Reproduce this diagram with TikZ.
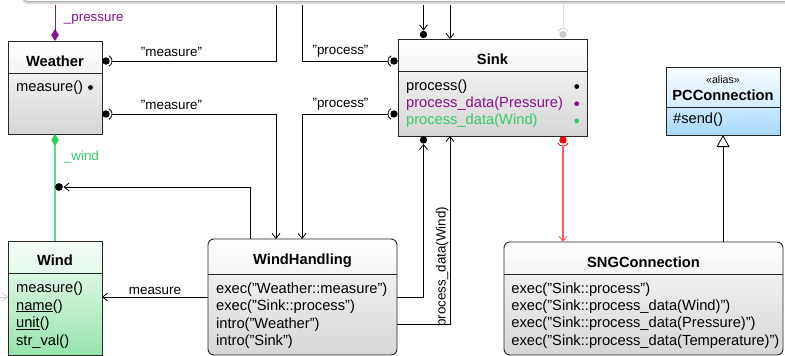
\documentclass[tikz,border=0pt]{standalone}
\usepackage{fontspec}
\setmainfont{Liberation Sans}
\usetikzlibrary{arrows.meta,backgrounds,shadows,calc}
\definecolor{hdtop}{RGB}{255,255,255}
\definecolor{hdbot}{RGB}{244,244,244}
\definecolor{bdtop}{RGB}{240,240,240}
\definecolor{bdbot}{RGB}{214,214,214}
\definecolor{wtop}{RGB}{246,253,248}
\definecolor{wbot}{RGB}{228,248,234}
\definecolor{wbtop}{RGB}{218,246,226}
\definecolor{wbbot}{RGB}{152,228,172}
\definecolor{ptop}{RGB}{248,252,255}
\definecolor{pbot}{RGB}{212,237,255}
\definecolor{pbtop}{RGB}{202,233,255}
\definecolor{pbbot}{RGB}{166,216,252}
\definecolor{purp}{RGB}{136,17,136}
\definecolor{gtext}{RGB}{51,204,102}
\definecolor{gline}{RGB}{110,212,140}
\definecolor{rline}{RGB}{255,90,90}
\definecolor{rball}{RGB}{255,0,0}
\definecolor{faint}{RGB}{205,205,205}
\begin{document}
\begin{tikzpicture}[x=1pt,y=-1pt,line width=0.8pt,
 cls/.style={draw=black!85,line width=0.9pt,inner sep=0pt,outer sep=0pt,anchor=north west},
 sepl/.style={draw=black!85,line width=0.9pt},
 ttl/.style={font=\fontsize{14.7}{17}\selectfont\bfseries,anchor=base,inner sep=0pt},
 itm/.style={font=\fontsize{14.7}{17}\selectfont,anchor=base west,inner sep=0pt},
 lbl/.style={font=\fontsize{13.4}{15}\selectfont,anchor=base,inner sep=0pt},
 arr/.style={-{Straight Barb[length=5pt,width=8pt]}},
 ]
\useasboundingbox (0,0) rectangle (785,356);

% upper (cut-off) box
\node[draw=gray!60,fill=gray!8,rounded corners=5pt,minimum width=800pt,minimum height=40pt,
  anchor=south west,inner sep=0pt,
  drop shadow={shadow xshift=0pt,shadow yshift=-2.5pt,opacity=0.3}] (upper) at (22,2) {};

% ---------- Weather
\node[cls,minimum width=94pt,minimum height=93pt] (weather) at (8,41) {};
\begin{scope}[on background layer]
\shade[top color=hdtop,bottom color=hdbot] (8,41) rectangle (102,73);
\shade[top color=bdtop,bottom color=bdbot] (8,73) rectangle (102,134);
\end{scope}
\draw[sepl] (8,73) -- (102,73);
\node[ttl] (weatherT) at (55,66.5) {Weather};
\node[itm] (weatherI) at (15.7,91.5) {measure()};
\fill (90.5,87.5) circle (2.4pt);

% ---------- Sink
\node[cls,minimum width=189pt,minimum height=97pt] (sink) at (398,39) {};
\begin{scope}[on background layer]
\shade[top color=hdtop,bottom color=hdbot] (398,39) rectangle (587,71);
\shade[top color=bdtop,bottom color=bdbot] (398,71) rectangle (587,136);
\end{scope}
\draw[sepl] (398,71) -- (587,71);
\node[ttl] (sinkT) at (492.5,64) {Sink};
\node[itm] (sinkI1) at (405.7,90.5) {process()};
\node[itm,text=purp] (sinkI2) at (405.7,107.5) {process\_data(Pressure)};
\node[itm,text=gtext] (sinkI3) at (405.7,124.5) {process\_data(Wind)};
\fill (576.7,86.5) circle (2.4pt);
\fill[purp] (576.7,103.7) circle (2.4pt);
\fill[gtext] (576.7,120.9) circle (2.4pt);

% ---------- PCConnection
\node[cls,minimum width=114pt,minimum height=68pt] (pc) at (666,67) {};
\begin{scope}[on background layer]
\shade[top color=ptop,bottom color=pbot] (666,67) rectangle (780,107);
\shade[top color=pbtop,bottom color=pbbot] (666,107) rectangle (780,135);
\end{scope}
\draw[sepl] (666,107) -- (780,107);
\node[inner sep=0pt,anchor=base,font=\fontsize{10.6}{12}\selectfont] (pcS) at (723,83) {«alias»};
\node[ttl] (pcT) at (723,100) {PCConnection};
\node[itm] (pcI) at (672.7,123.5) {\#send()};

% ---------- WindHandling
\node[cls,rounded corners=6pt,minimum width=189pt,minimum height=116pt] (wh) at (208,239) {};
\begin{scope}[on background layer]
\begin{scope}
\clip[rounded corners=6pt] (208,239) rectangle (397,355);
\shade[top color=hdtop,bottom color=hdbot] (208,239) rectangle (397,274);
\shade[top color=bdtop,bottom color=bdbot] (208,274) rectangle (397,355);
\end{scope}
\end{scope}
\draw[sepl] (208,274) -- (397,274);
\node[ttl] (whT) at (302.5,264.5) {WindHandling};
\node[itm] (whI1) at (215.7,293.5) {exec("Weather::measure")};
\node[itm] (whI2) at (215.7,310.8) {exec("Sink::process")};
\node[itm] (whI3) at (215.7,328.1) {intro("Weather")};
\node[itm] (whI4) at (215.7,345.4) {intro("Sink")};

% ---------- SNGConnection
\node[cls,rounded corners=6pt,minimum width=279pt,minimum height=113pt] (sng) at (504,242) {};
\begin{scope}[on background layer]
\begin{scope}
\clip[rounded corners=6pt] (504,242) rectangle (783,355);
\shade[top color=hdtop,bottom color=hdbot] (504,242) rectangle (783,274);
\shade[top color=bdtop,bottom color=bdbot] (504,274) rectangle (783,355);
\end{scope}
\end{scope}
\draw[sepl] (504,274) -- (783,274);
\node[ttl] (sngT) at (643.5,267.3) {SNGConnection};
\node[itm] (sngI1) at (511,293.3) {exec("Sink::process")};
\node[itm] (sngI2) at (511,310.6) {exec("Sink::process\_data(Wind)")};
\node[itm] (sngI3) at (511,327.9) {exec("Sink::process\_data(Pressure)")};
\node[itm] (sngI4) at (511,345.2) {exec("Sink::process\_data(Temperature)")};

% ---------- Wind
\node[cls,minimum width=94pt,minimum height=114pt] (wind) at (8,241) {};
\begin{scope}[on background layer]
\shade[top color=wtop,bottom color=wbot] (8,241) rectangle (102,273);
\shade[top color=wbtop,bottom color=wbbot] (8,273) rectangle (102,355);
\end{scope}
\draw[sepl] (8,273) -- (102,273);
\node[ttl] (windT) at (55,265.7) {Wind};
\node[itm] (windI1) at (15.7,292.5) {measure()};
\node[itm] (windI2) at (15.7,310) {\underline{name}()};
\node[itm] (windI3) at (15.7,327.5) {\underline{unit}()};
\node[itm] (windI4) at (15.7,345) {str\_val()};

% ---------- free ends at the top
\coordinate (T55) at (55,5);
\coordinate (T276) at (276,5);
\coordinate (T302) at (302,5);
\coordinate (T423) at (423.5,5);
\coordinate (T450) at (450,5);
\coordinate (T563) at (563,5);

% pressure / wind compositions
\draw[purp,-{Diamond[length=12pt,width=7.5pt]}] (T55) -- (weather.north);
\node[lbl,anchor=base west,text=purp] (lp) at (63.5,21) {\_pressure};
\draw[gline,line width=1.5pt,-{Diamond[length=12pt,width=7.5pt,color=gtext,line width=0.8pt]}] (wind.north) -- (weather.south);
\node[lbl,anchor=base west,text=gtext] (lw) at (63.5,160.5) {\_wind};

% measure 1
\path (weather.north east) ++(4,20) coordinate (bm1);
\fill (bm1) circle (3.7pt);
\draw (bm1) ++(-60:6pt) arc[start angle=-60,end angle=60,radius=6pt];
\draw ($(bm1)+(6,0)$) -| (T276);
\node[lbl] (lm1) at (171.5,56.5) {"measure"};

% measure 2
\path (weather.north east) ++(4,73) coordinate (bm2);
\fill (bm2) circle (3.7pt);
\draw (bm2) ++(-60:6pt) arc[start angle=-60,end angle=60,radius=6pt];
\draw[arr] ($(bm2)+(6,0)$) -| ($(wh.north west)+(68,0)$);
\node[lbl] (lm2) at (171.5,109.5) {"measure"};

% process 1
\path (sink.north west) ++(-4,22) coordinate (bp1);
\fill (bp1) circle (3.7pt);
\draw (bp1) ++(120:6pt) arc[start angle=120,end angle=240,radius=6pt];
\draw (T302) |- ($(bp1)+(-6,0)$);
\node[lbl] (lp1) at (340.5,54) {"process"};

% process 2
\path (sink.north west) ++(-4,75) coordinate (bp2);
\fill (bp2) circle (3.7pt);
\draw (bp2) ++(120:6pt) arc[start angle=120,end angle=240,radius=6pt];
\draw[arr] ($(bp2)+(-6,0)$) -| ($(wh.north west)+(94,0)$);
\node[lbl] (lp2) at (340.5,107.5) {"process"};

% into Sink from above
\path (sink.north west) ++(25.5,-4.5) coordinate (bt1);
\fill (bt1) circle (3.7pt);
\draw[arr] (T423) -- ($(bt1)+(0,-4)$);
\draw[arr] (T450) -- ($(sink.north west)+(52,0)$);
\path (sink.north west) ++(165,-4.5) coordinate (bg);
\fill[faint] (bg) circle (3.7pt);
\draw[faint] (bg) ++(30:6pt) arc[start angle=30,end angle=150,radius=6pt];
\draw[faint!70] (T563) -- ($(bg)+(0,-6)$);

% from WindHandling to Sink bottom
\path (sink.south west) ++(25.5,4) coordinate (bb1);
\fill (bb1) circle (3.7pt);
\draw[arr] ($(wh.north east)+(0,58)$) -| ($(bb1)+(0,4)$);
\draw[arr] ($(wh.north east)+(0,85)$) -| ($(sink.south west)+(52,0)$);
\node[lbl,rotate=90,anchor=base west] (lpd) at (445.5,327) {process\_data(Wind)};

% red: Sink -> SNGConnection
\path (sink.south west) ++(165,4) coordinate (br);
\fill[rball] (br) circle (3.7pt);
\draw[rball] (br) ++(210:6pt) arc[start angle=210,end angle=330,radius=6pt];
\draw[rline,line width=1.4pt,-{Straight Barb[length=5pt,width=8pt,line width=0.9pt]}] ($(br)+(0,6)$) -- ($(sng.north west)+(59,0)$);

% inheritance
\draw[-{Triangle[open,length=12pt,width=13pt]}] ($(sng.north west)+(219,0)$) -- (pc.south);

% WindHandling -> ball on the _wind line
\path (wind.north) ++(4,-54) coordinate (bw);
\fill (bw) circle (3.9pt);
\draw[arr] ($(wh.north west)+(42,0)$) |- ($(bw)+(4.5,0)$);

% measure (WindHandling -> Wind)
\draw[arr] ($(wh.north west)+(0,58)$) -- ($(wind.north east)+(0,56)$);
\node[lbl] (lm3) at (155,294) {measure};
\draw[faint,arr] ($(wind.north west)+(-12,56)$) -- ($(wind.north west)+(0,56)$);
\end{tikzpicture}
\end{document}
